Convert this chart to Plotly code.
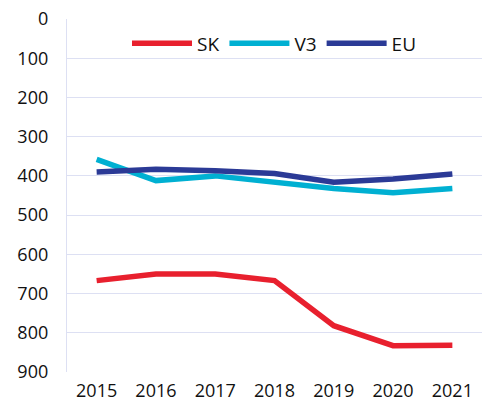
import plotly.graph_objects as go

years = ["2015", "2016", "2017", "2018", "2019", "2020", "2021"]
sk = [667, 650, 650, 667, 782, 833, 832]
v3 = [358, 412, 400, 415, 432, 443, 432]
eu = [390, 383, 387, 394, 416, 408, 395]

series = [("SK", sk, "#E8202E"), ("V3", v3, "#00B0D2"), ("EU", eu, "#2B3A96")]

fig = go.Figure()
for name, vals, color in series:
    fig.add_trace(go.Scatter(x=years, y=vals, name=name, mode="lines",
                             line=dict(color=color, width=5.5)))

grid = "#DDE0F3"
fig.update_layout(
    width=501, height=409,
    margin=dict(l=67, r=19, t=19, b=37, autoexpand=False),
    paper_bgcolor="white", plot_bgcolor="white",
    font=dict(family="Open Sans", size=18, color="#111111"),
    legend=dict(orientation="h", x=0.50, xanchor="center", y=0.985, yanchor="top",
                font=dict(size=19), bgcolor="rgba(0,0,0,0)", itemwidth=60),
    showlegend=True,
)
fig.update_xaxes(type="category", showgrid=False, showline=False, ticks="",
                 range=[-0.5, 6.5], ticklabelstandoff=6, automargin=False)
fig.update_yaxes(range=[900, 0], dtick=100, showgrid=True, gridcolor=grid, gridwidth=1.3,
                 zeroline=False, showline=True, linecolor=grid, linewidth=1.3,
                 ticks="", ticklabelstandoff=14, automargin=False)

# drop the default 8px body margin so the figure fills the window exactly
fig.write_html("out.html", config={"displayModeBar": False},
               post_script="document.body.style.margin='0';")
